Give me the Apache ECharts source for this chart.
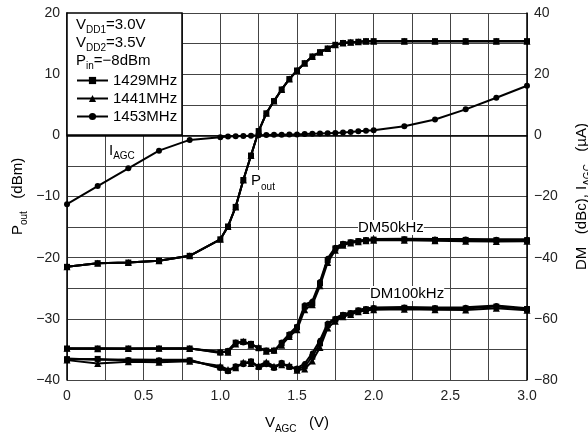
<!DOCTYPE html>
<html>
<head>
<meta charset="utf-8">
<script src="https://cdn.jsdelivr.net/npm/echarts@6/dist/echarts.min.js"></script>
<style>
html, body { margin: 0; padding: 0; background: #fff; }
#main { width: 588px; height: 441px; }
</style>
</head>
<body>
<div id="main"></div>
<script>
// V_AGC sweep points (V)
var vagc = [0, 0.2, 0.4, 0.6, 0.8, 1.0, 1.05, 1.1, 1.15, 1.2, 1.25, 1.3, 1.35, 1.4, 1.45, 1.5,
            1.55, 1.6, 1.65, 1.7, 1.75, 1.8, 1.85, 1.9, 1.95, 2.0, 2.2, 2.4, 2.6, 2.8, 3.0];

// output power (dBm), left axis - three frequencies lie on top of each other
var pout = [-21.5, -20.9, -20.8, -20.5, -19.7, -17.0, -14.9, -11.7, -7.3, -3.3, 0.7, 3.6, 5.6, 7.5, 9.2, 10.6,
            11.8, 12.9, 13.6, 14.2, 14.8, 15.1, 15.2, 15.3, 15.4, 15.4, 15.4, 15.4, 15.4, 15.4, 15.4];

// AGC current (uA), right axis
var iagc = [-22.5, -16.6, -10.8, -5.0, -1.5, -0.6, -0.4, -0.3, -0.2, -0.1, 0.0, 0.1, 0.2, 0.2, 0.3, 0.3,
            0.4, 0.5, 0.6, 0.7, 0.8, 0.9, 1.1, 1.3, 1.5, 1.7, 3.0, 5.2, 8.5, 12.3, 16.2];

// DM at 50kHz offset (dBc), right axis
var dm50_1429 = [-69.7, -69.7, -69.7, -69.7, -69.7, -71.0, -70.6, -67.8, -67.5, -68.2, -69.6, -70.4, -70.4, -68.0, -65.3, -62.8,
                 -56.0, -54.9, -48.4, -40.8, -37.0, -35.6, -35.0, -34.6, -34.3, -34.1, -34.0, -34.2, -34.2, -34.3, -34.3];
var dm50_1441 = [-69.6, -69.8, -69.7, -69.6, -69.7, -70.8, -70.9, -68.2, -67.3, -68.6, -69.3, -70.6, -70.2, -68.6, -65.8, -63.6,
                 -57.0, -55.4, -49.2, -41.6, -37.6, -35.9, -35.2, -34.8, -34.5, -34.3, -34.3, -34.5, -34.6, -34.7, -34.6];
var dm50_1453 = [-69.8, -69.6, -69.8, -69.8, -69.6, -71.2, -70.3, -67.6, -67.9, -68.0, -69.8, -70.2, -70.6, -67.6, -64.9, -62.4,
                 -55.4, -54.2, -47.8, -40.2, -36.6, -35.3, -34.8, -34.4, -34.1, -33.9, -33.8, -33.9, -33.9, -34.0, -34.0];

// DM at 100kHz offset (dBc), right axis
var dm100_1429 = [-73.2, -73.1, -73.6, -73.7, -73.6, -75.9, -77.0, -75.7, -74.6, -74.0, -75.7, -74.6, -75.9, -74.6, -75.7, -76.5,
                  -75.5, -72.4, -68.0, -62.0, -60.2, -58.8, -58.2, -57.3, -56.9, -56.6, -56.4, -56.6, -56.6, -56.0, -56.8];
var dm100_1441 = [-73.5, -74.6, -74.0, -74.2, -73.9, -75.4, -76.6, -76.0, -74.2, -74.6, -75.3, -74.1, -75.5, -75.0, -75.2, -76.8,
                  -76.4, -73.8, -69.4, -63.0, -60.8, -59.3, -58.6, -57.7, -57.3, -57.0, -56.9, -57.0, -57.1, -56.5, -57.2];
var dm100_1453 = [-73.0, -73.4, -73.3, -73.4, -73.4, -76.2, -77.3, -75.3, -75.0, -73.7, -76.0, -75.0, -76.2, -74.2, -75.9, -76.1,
                  -74.6, -71.2, -67.0, -61.4, -59.8, -58.5, -57.9, -57.0, -56.6, -56.3, -56.1, -56.3, -56.2, -55.6, -56.5];

var freqs = ['1429MHz', '1441MHz', '1453MHz'];
var symbols = ['rect', 'triangle', 'circle'];
var symbolSizes = [6, 7, 5];

var FONT = 'Liberation Sans, Arial, sans-serif';
var minus = function (v) { return String(v).replace('-', '\u2212'); };

function pairs(xs, ys) {
    return xs.map(function (x, i) { return [x, ys[i]]; });
}

var dm50 = [dm50_1429, dm50_1441, dm50_1453];
var dm100 = [dm100_1429, dm100_1441, dm100_1453];

var series = [];
freqs.forEach(function (f, k) {
    var base = {
        name: f,
        type: 'line',
        symbol: symbols[k],
        symbolSize: symbolSizes[k],
        itemStyle: { color: '#000' },
        lineStyle: { color: '#000', width: 2 },
        animation: false
    };
    series.push(Object.assign({}, base, { yAxisIndex: 0, data: pairs(vagc, pout) }));
    series.push(Object.assign({}, base, { yAxisIndex: 1, data: pairs(vagc, dm50[k]) }));
    series.push(Object.assign({}, base, { yAxisIndex: 1, data: pairs(vagc, dm100[k]) }));
});
series.push({
    name: 'IAGC',
    type: 'line',
    yAxisIndex: 1,
    symbol: 'circle',
    symbolSize: 6,
    itemStyle: { color: '#000' },
    lineStyle: { color: '#000', width: 2 },
    data: pairs(vagc, iagc),
    animation: false
});

var subRich = {
    a: { fontSize: 15, fontFamily: FONT, color: '#000', lineHeight: 22 },
    s: { fontSize: 10, fontFamily: FONT, color: '#000', lineHeight: 12, verticalAlign: 'bottom' }
};

var myChart = echarts.init(document.getElementById('main'));
option = {
    backgroundColor: '#fff',
    textStyle: { fontFamily: FONT },
    grid: { left: 67, right: 61, top: 13, bottom: 61, outerBoundsMode: 'none', containLabel: false },
    legend: {
        data: freqs,
        orient: 'vertical',
        left: 76,
        top: 73,
        padding: 0,
        z: 20,
        itemWidth: 31,
        itemHeight: 9,
        itemGap: 3,
        textStyle: { fontSize: 15, color: '#000', fontFamily: FONT },
        selectedMode: false
    },
    xAxis: {
        type: 'value',
        min: 0,
        max: 3,
        interval: 0.25,
        name: '{a|V}{s|AGC}{a|   (V)}',
        nameLocation: 'middle',
        nameGap: 32,
        nameTextStyle: { rich: subRich },
        axisLine: { lineStyle: { color: '#000', width: 1.5 } },
        axisTick: { show: false },
        axisLabel: {
            fontSize: 14,
            color: '#222',
            margin: 9,
            formatter: function (v) {
                if (Math.abs(v * 2 - Math.round(v * 2)) > 1e-6) return '';
                return v === 0 ? '0' : v.toFixed(1);
            }
        },
        splitLine: { show: true, lineStyle: { color: '#444', width: 1 } }
    },
    yAxis: [
        {
            type: 'value',
            min: -40,
            max: 20,
            interval: 5,
            name: '{a|P}{s|out}{a|   (dBm)}',
            nameLocation: 'middle',
            nameRotate: 90,
            nameGap: 38,
            nameMoveOverlap: false,
            nameTextStyle: { rich: subRich },
            axisLine: { show: true, lineStyle: { color: '#000', width: 1.5 } },
            axisTick: { show: false },
            axisLabel: {
                fontSize: 14,
                color: '#222',
                margin: 7,
                formatter: function (v) { return v % 10 === 0 ? minus(v) : ''; }
            },
            splitLine: { show: true, lineStyle: { color: '#444', width: 1 } }
        },
        {
            type: 'value',
            position: 'right',
            min: -80,
            max: 40,
            interval: 10,
            name: '{a|DM   (dBc), I}{s|AGC}{a|   (\u00b5A)}',
            nameLocation: 'middle',
            nameRotate: 90,
            nameGap: 44,
            nameTextStyle: { rich: subRich },
            axisLine: { show: true, lineStyle: { color: '#000', width: 1.5 } },
            axisTick: { show: false },
            axisLabel: {
                fontSize: 14,
                color: '#222',
                margin: 7,
                formatter: function (v) { return v % 20 === 0 ? minus(v) : ''; }
            },
            splitLine: { show: false }
        }
    ],
    graphic: [
        {
            type: 'rect',
            z: 10,
            shape: { x: 67, y: 13, width: 115, height: 122 },
            style: { fill: '#fff', stroke: '#000', lineWidth: 1.5 }
        },
        {
            type: 'text', z: 11, left: 76, top: 17,
            style: { text: '{a|V}{s|DD1}{a|=3.0V}', rich: subRich }
        },
        {
            type: 'text', z: 11, left: 76, top: 35,
            style: { text: '{a|V}{s|DD2}{a|=3.5V}', rich: subRich }
        },
        {
            type: 'text', z: 11, left: 76, top: 53,
            style: { text: '{a|P}{s|in}{a|=\u22128dBm}', rich: subRich }
        },
        {
            type: 'text', z: 11, left: 109, top: 143,
            style: { text: '{a|I}{s|AGC}', rich: subRich }
        },
        {
            type: 'text', z: 11, left: 251, top: 170,
            style: { text: '{a|P}{s|out}', rich: subRich, backgroundColor: '#fff' }
        },
        {
            type: 'text', z: 11, left: 358, top: 220,
            style: { text: 'DM50kHz', font: '15px ' + FONT, fill: '#000', backgroundColor: '#fff' }
        },
        {
            type: 'text', z: 11, left: 370, top: 286,
            style: { text: 'DM100kHz', font: '15px ' + FONT, fill: '#000', backgroundColor: '#fff' }
        }
    ],
    series: series
};
myChart.setOption(option);
</script>
</body>
</html>
